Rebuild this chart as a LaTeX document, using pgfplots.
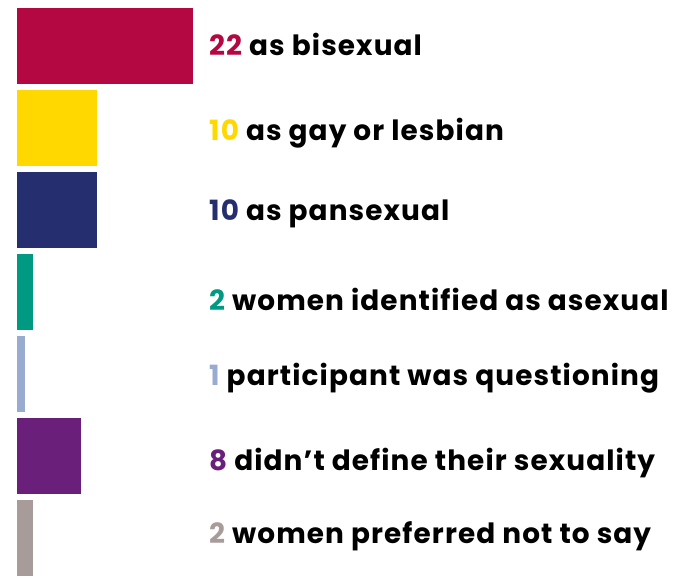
\documentclass[border=0pt]{standalone}
\usepackage{pgfplots}
\pgfplotsset{compat=1.18}
\usepackage{fontspec}
\setmainfont{Poppins}[LetterSpace=4]
\definecolor{c1}{HTML}{B30841}
\definecolor{c2}{HTML}{FFD800}
\definecolor{c3}{HTML}{252F6F}
\definecolor{c4}{HTML}{009A82}
\definecolor{c5}{HTML}{9AABD0}
\definecolor{c6}{HTML}{6A1F7A}
\definecolor{c7}{HTML}{A89C9A}
\begin{document}
\begin{tikzpicture}[x=1bp,y=1bp]
\begin{axis}[
  width=677bp, height=577bp, scale only axis,
  hide axis, clip=false,
  xmin=-2.125, xmax=82.5,
  ymin=-0.561, ymax=6.476,
  y dir=reverse,
  xbar, bar width=0.927, bar shift=0pt,
]
\addplot[fill=c1, draw=none] coordinates {(22,0)};
\addplot[fill=c2, draw=none] coordinates {(10,1)};
\addplot[fill=c3, draw=none] coordinates {(10,2)};
\addplot[fill=c4, draw=none] coordinates {(2,3)};
\addplot[fill=c5, draw=none] coordinates {(1,4)};
\addplot[fill=c6, draw=none] coordinates {(8,5)};
\addplot[fill=c7, draw=none] coordinates {(2,6)};
\path (rel axis cs:0,0) rectangle (rel axis cs:1,1);
\tikzset{lab/.style={anchor=west, inner sep=0pt, font=\fontsize{28}{30}\selectfont\bfseries}}
\node[lab] at (axis cs:24,-0.025) {\textcolor{c1}{22} as bisexual\vphantom{x}};
\node[lab] at (axis cs:24,1.061) {\textcolor{c2}{10} as gay or lesbian\vphantom{x}};
\node[lab] at (axis cs:24,2.049) {\textcolor{c3}{10} as pansexual\vphantom{x}};
\node[lab] at (axis cs:24,3.085) {\textcolor{c4}{2} women identified as asexual\vphantom{x}};
\node[lab] at (axis cs:24,4.049) {\textcolor{c5}{1} participant was questioning\vphantom{x}};
\node[lab] at (axis cs:24,5.085) {\textcolor{c6}{8} didn’t define their sexuality\vphantom{x}};
\node[lab] at (axis cs:24,5.976) {\textcolor{c7}{2} women preferred not to say\vphantom{x}};
\end{axis}
\end{tikzpicture}
\end{document}
